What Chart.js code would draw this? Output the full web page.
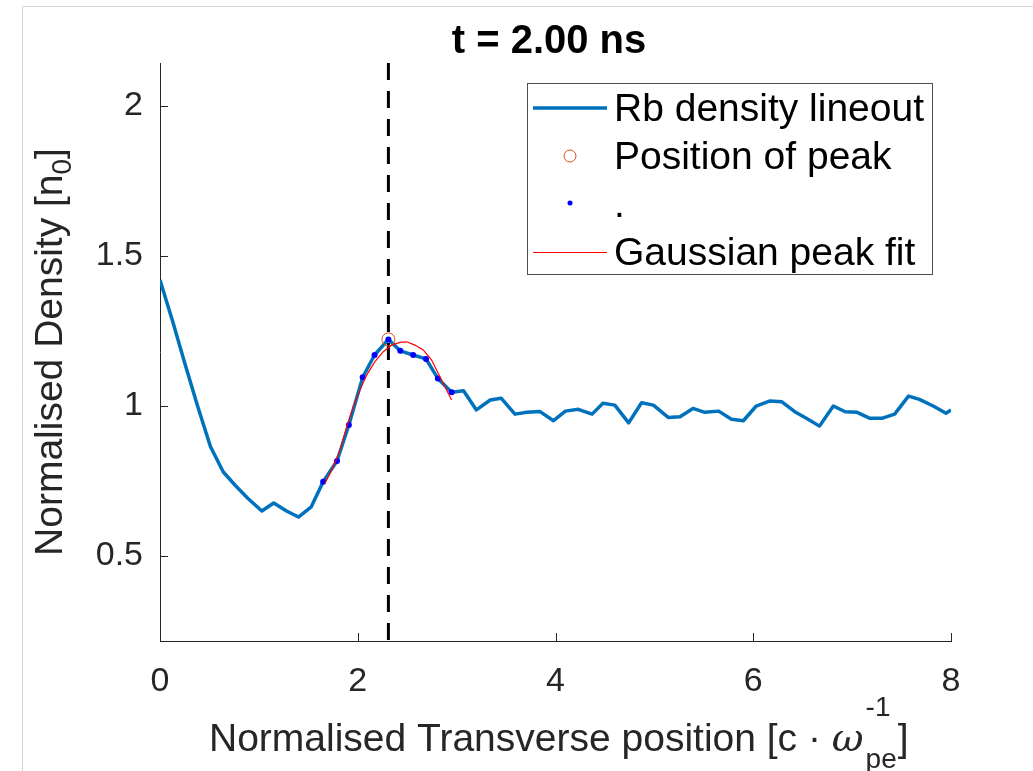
<!DOCTYPE html>
<html><head><meta charset="utf-8">
<script src="https://cdn.jsdelivr.net/npm/chart.js@4/dist/chart.umd.min.js"></script>
<style>html,body{margin:0;padding:0;background:#fff}</style>
</head><body>
<canvas id="c" width="1033" height="771"></canvas>
<script>
// ---- data ----
const lineX = [0.00,0.13,0.25,0.38,0.51,0.64,0.76,0.89,1.03,1.15,1.28,1.40,1.53,1.65,1.79,1.91,2.05,2.17,2.31,2.43,2.56,2.69,2.81,2.95,3.07,3.20,3.34,3.45,3.59,3.71,3.84,3.98,4.10,4.23,4.37,4.48,4.60,4.74,4.87,4.99,5.14,5.26,5.39,5.51,5.65,5.78,5.90,6.03,6.17,6.29,6.42,6.55,6.67,6.81,6.93,7.05,7.18,7.30,7.43,7.57,7.68,7.82,7.95,8.00];
const lineY = [1.420,1.280,1.143,1.000,0.865,0.780,0.736,0.692,0.650,0.677,0.650,0.630,0.664,0.748,0.817,0.937,1.096,1.170,1.222,1.184,1.170,1.157,1.092,1.046,1.051,0.987,1.020,1.026,0.973,0.979,0.982,0.951,0.983,0.989,0.973,1.009,1.003,0.944,1.011,1.003,0.962,0.964,0.992,0.979,0.983,0.956,0.951,1.000,1.017,1.014,0.981,0.957,0.933,1.000,0.981,0.979,0.959,0.959,0.973,1.033,1.022,1.000,0.976,0.987];
const dotX = [1.65,1.79,1.91,2.05,2.17,2.31,2.43,2.56,2.69,2.81,2.95];
const dotY = [0.748,0.817,0.937,1.096,1.170,1.222,1.184,1.170,1.157,1.092,1.046];
const gaussX = [1.668,1.753,1.820,1.888,1.955,2.022,2.090,2.174,2.258,2.343,2.427,2.494,2.578,2.662,2.747,2.814,2.882,2.949];
const gaussY = [0.742,0.798,0.853,0.931,0.998,1.053,1.103,1.148,1.181,1.203,1.212,1.214,1.203,1.187,1.153,1.109,1.064,1.020];
const peakX = [2.31];
const peakY = [1.222];
const xTicks = [0,2,4,6,8];
const yTicks = [0.5,1,1.5,2];
const xRange = [0,8];
const yRange = [0.217,2.143];
const legendLabels = ['Rb density lineout','Position of peak','.','Gaussian peak fit'];
const titleText = 't = 2.00 ns';

const FONT = '"Liberation Sans", Arial, Helvetica, sans-serif';
const AX = '#262626';
const pts = (xs, ys) => xs.map((x, i) => ({x, y: ys[i]}));

const decor = {
  id: 'decor',
  beforeDraw(chart) {
    const c = chart.ctx;
    c.save();
    c.strokeStyle = '#d4d4d4'; c.lineWidth = 1;
    c.beginPath(); c.moveTo(22.5, 771); c.lineTo(22.5, 6.5); c.lineTo(1033, 6.5); c.stroke();
    c.restore();
  },
  afterDraw(chart) {
    const c = chart.ctx, a = chart.chartArea;
    const xs = chart.scales.x, ys = chart.scales.y;
    c.save();
    // inward ticks
    c.strokeStyle = AX; c.lineWidth = 1;
    c.beginPath();
    xTicks.forEach(v => { const p = Math.round(xs.getPixelForValue(v)) + 0.5; c.moveTo(p, a.bottom); c.lineTo(p, a.bottom - 8); });
    yTicks.forEach(v => { const p = Math.round(ys.getPixelForValue(v)) + 0.5; c.moveTo(a.left, p); c.lineTo(a.left + 8, p); });
    c.stroke();

    // title
    c.fillStyle = '#000';
    c.font = 'bold 40px ' + FONT;
    c.textAlign = 'center'; c.textBaseline = 'alphabetic';
    c.fillText(titleText, 549, 53);

    // x axis title
    c.fillStyle = AX; c.textAlign = 'left';
    const xf = '39px ' + FONT;
    c.font = xf;
    let x = 209; const by = 751;
    const s1 = 'Normalised Transverse position [c \u00B7 ';
    c.fillText(s1, x, by); x += c.measureText(s1).width;
    c.font = 'italic 39px "DejaVu Serif", serif';
    c.fillText('\u03C9', x, by); x += c.measureText('\u03C9').width + 2;
    c.font = '28px ' + FONT;
    c.fillText('-1', x, 716);
    const w1 = c.measureText('-1').width;
    c.fillText('pe', x, 768);
    const w2 = c.measureText('pe').width;
    x += Math.max(w1, w2) + 1;
    c.font = xf;
    c.fillText(']', x, by);

    // y axis title (rotated)
    c.save();
    c.translate(62, 352);
    c.rotate(-Math.PI / 2);
    const yf = '39px ' + FONT;
    c.font = yf;
    const p1 = 'Normalised Density [n';
    const wp1 = c.measureText(p1).width;
    c.font = '28px ' + FONT; const wsub = c.measureText('0').width;
    c.font = yf; const wend = c.measureText(']').width;
    const tot = wp1 + wsub + wend;
    let yx = -tot / 2;
    c.textAlign = 'left';
    c.fillText(p1, yx, 0); yx += wp1;
    c.font = '28px ' + FONT; c.fillText('0', yx, 9); yx += wsub;
    c.font = yf; c.fillText(']', yx, 0);
    c.restore();

    // legend
    c.fillStyle = '#fff';
    c.fillRect(527.5, 83.5, 405, 191);
    c.strokeStyle = '#4d4d4d'; c.lineWidth = 1;
    c.strokeRect(527.5, 83.5, 405, 191);
    const rows = [108, 156, 204, 252];
    c.strokeStyle = '#0072BD'; c.lineWidth = 3.5;
    c.beginPath(); c.moveTo(533, rows[0]); c.lineTo(607, rows[0]); c.stroke();
    c.strokeStyle = '#D95319'; c.lineWidth = 1;
    c.beginPath(); c.arc(570, rows[1], 6, 0, Math.PI * 2); c.stroke();
    c.fillStyle = '#0000FF';
    c.beginPath(); c.arc(570, rows[2] - 1, 2.5, 0, Math.PI * 2); c.fill();
    c.strokeStyle = '#FF0000'; c.lineWidth = 1;
    c.beginPath(); c.moveTo(533, rows[3] + 0.5); c.lineTo(607, rows[3] + 0.5); c.stroke();
    c.fillStyle = '#000'; c.font = '39px ' + FONT; c.textAlign = 'left'; c.textBaseline = 'alphabetic';
    legendLabels.forEach((t, i) => c.fillText(t, 614, rows[i] + 13));
    c.restore();
  }
};

new Chart(document.getElementById('c'), {
  type: 'scatter',
  data: { datasets: [
    { label: legendLabels[3], data: pts(gaussX, gaussY), showLine: true, borderColor: '#FF0000', borderWidth: 1.2, pointRadius: 0, order: 0 },
    { label: legendLabels[2], data: pts(dotX, dotY), showLine: false, pointRadius: 3, backgroundColor: '#0000FF', borderWidth: 0, order: 1 },
    { label: legendLabels[1], data: pts(peakX, peakY), showLine: false, pointRadius: 6.5, backgroundColor: 'rgba(0,0,0,0)', borderColor: '#D95319', borderWidth: 1, order: 2 },
    { label: 'peak position marker', data: [{x: peakX[0], y: yRange[1]}, {x: peakX[0], y: yRange[0]}], showLine: true, borderColor: '#000', borderWidth: 3, borderDash: [17, 11], pointRadius: 0, order: 3 },
    { label: legendLabels[0], data: pts(lineX, lineY), showLine: true, borderColor: '#0072BD', borderWidth: 3.5, pointRadius: 0, borderJoinStyle: 'round', order: 4 }
  ]},
  options: {
    responsive: false, animation: false, devicePixelRatio: 1,
    layout: { padding: { top: 63, right: 82, left: 0, bottom: 0 } },
    plugins: { legend: { display: false }, tooltip: { enabled: false }, title: { display: false } },
    scales: {
      x: {
        type: 'linear', min: xRange[0], max: xRange[1],
        afterBuildTicks: s => { s.ticks = xTicks.map(v => ({ value: v })); },
        afterFit: s => { s.height = 130; },
        grid: { display: false, drawTicks: false },
        border: { display: true, color: AX, width: 1 },
        ticks: { padding: 20, color: AX, font: { family: FONT, size: 34 }, maxRotation: 0, callback: v => String(v) }
      },
      y: {
        type: 'linear', min: yRange[0], max: yRange[1],
        afterBuildTicks: s => { s.ticks = yTicks.map(v => ({ value: v })); },
        afterFit: s => { s.width = 160; },
        grid: { display: false, drawTicks: false },
        border: { display: true, color: AX, width: 1 },
        ticks: { padding: 17, color: AX, font: { family: FONT, size: 34 }, callback: v => String(v) }
      }
    }
  },
  plugins: [decor]
});
</script>
</body></html>
